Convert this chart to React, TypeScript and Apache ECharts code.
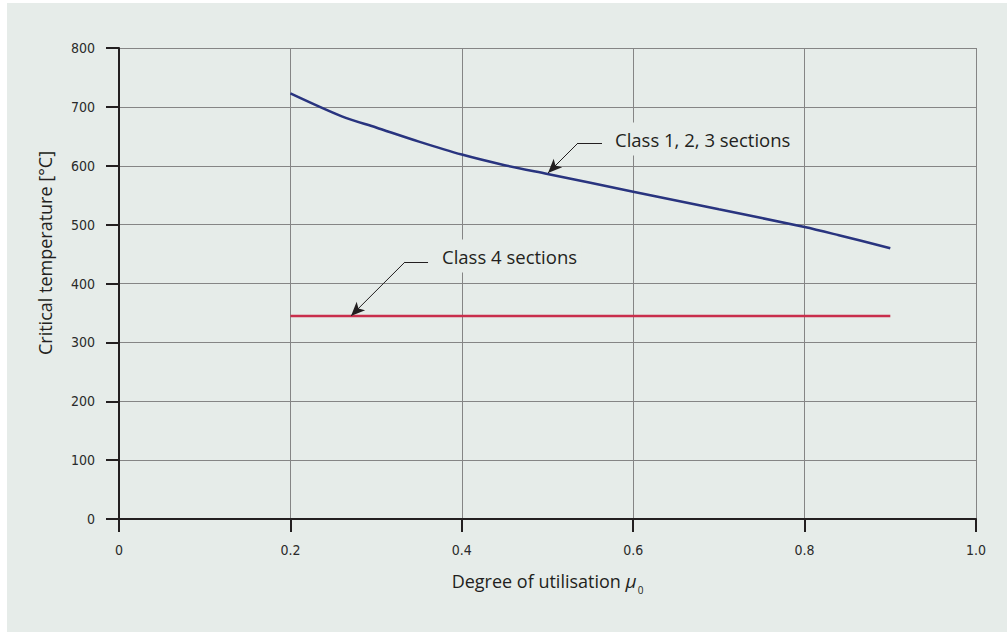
import React, { useEffect, useRef } from "react";
import * as echarts from "echarts";

const xTicks = [0, 0.2, 0.4, 0.6, 0.8, 1.0];
const classes123X = [0.2, 0.26, 0.3, 0.35, 0.4, 0.45, 0.5, 0.6, 0.7, 0.8, 0.84, 0.9];
const classes123Y = [723, 684, 665, 641, 619, 601, 586, 556, 526, 496, 482, 460];
const class4X = [0.2, 0.9];
const class4Y = [345, 345];
const label123 = "Class 1, 2, 3 sections";
const label4 = "Class 4 sections";
// leader lines in data coordinates: [knee, end of horizontal, arrow tip]
const leader123 = [[0.5356, 638.6], [0.5636, 638.6], [0.5006, 587.7]];
const leader4 = [[0.3337, 436.5], [0.3606, 436.5], [0.2707, 345]];

const BG = "#e6ece9";
const AXIS = "#231f20";
const GRID = "#858585";
const BLUE = "#29347f";
const RED = "#c92e4c";
const SANS = "'Open Sans', 'Noto Sans', sans-serif";
const NARROW = "'Liberation Sans Narrow', 'DejaVu Sans Condensed', Roboto, sans-serif";

function leaderLines(pts: number[][]) {
  return [
    [{ coord: pts[0], symbol: "none" }, { coord: pts[1], symbol: "none" }],
    [{ coord: pts[0], symbol: "none" }, { coord: pts[2], symbol: "arrow" }],
  ];
}

export default function App() {
  const ref = useRef<HTMLDivElement>(null);
  useEffect(() => {
    if (!ref.current) return;
    const chart = echarts.init(ref.current, undefined, { renderer: "svg" });
    chart.setOption({
      animation: false,
      backgroundColor: "transparent",
      grid: { left: 119, top: 48, width: 857, height: 471, containLabel: false },
      xAxis: {
        type: "value",
        min: 0,
        max: 1,
        interval: 0.2,
        name: "{a|Degree of utilisation }{mu|μ}{sub|0}",
        nameLocation: "middle",
        nameGap: 48,
        nameTextStyle: {
          rich: {
            a: { fontFamily: SANS, fontSize: 18, color: "#231f20" },
            mu: { fontFamily: SANS, fontSize: 19, fontStyle: "italic", color: "#231f20" },
            sub: { fontFamily: SANS, fontSize: 10, color: "#231f20", padding: [18, 0, 0, 1] },
          },
        },
        axisLine: { show: true, lineStyle: { color: AXIS, width: 2 } },
        axisTick: { show: true, inside: false, length: 13, lineStyle: { color: AXIS, width: 2 } },
        axisLabel: {
          margin: 24,
          fontFamily: NARROW,
          fontSize: 14,
          color: "#2a2a2a",
          formatter: (v: number) => (v === 0 ? "0" : v.toFixed(1)),
        },
        splitLine: { show: true, lineStyle: { color: GRID, width: 1 } },
      },
      yAxis: {
        type: "value",
        min: 0,
        max: 800,
        interval: 100,
        axisLine: { show: true, lineStyle: { color: AXIS, width: 2 } },
        axisTick: { show: true, inside: false, length: 13, lineStyle: { color: AXIS, width: 2 } },
        axisLabel: { margin: 24, fontFamily: NARROW, fontSize: 14, color: "#2a2a2a" },
        splitLine: { show: true, lineStyle: { color: GRID, width: 1 } },
      },
      graphic: [
        {
          type: "text",
          x: 45,
          y: 253,
          rotation: Math.PI / 2,
          style: {
            text: "Critical temperature [°C]",
            font: `18px ${SANS}`,
            fill: "#231f20",
            textAlign: "center",
            textVerticalAlign: "middle",
          },
        },
        {
          type: "text",
          x: 606,
          y: 139,
          z: 10,
          style: {
            text: label123,
            font: `18.5px ${SANS}`,
            fill: "#231f20",
            textAlign: "left",
            textVerticalAlign: "middle",
            backgroundColor: BG,
            padding: [7, 4, 7, 9],
          },
        },
        {
          type: "text",
          x: 433,
          y: 256,
          z: 10,
          style: {
            text: label4,
            font: `18.5px ${SANS}`,
            fill: "#231f20",
            textAlign: "left",
            textVerticalAlign: "middle",
            backgroundColor: BG,
            padding: [7, 4, 7, 9],
          },
        },
      ],
      series: [
        {
          type: "line",
          data: classes123X.map((x, i) => [x, classes123Y[i]]),
          showSymbol: false,
          symbol: "none",
          smooth: 0.3,
          lineStyle: { color: BLUE, width: 2.5 },
          z: 3,
          markLine: {
            silent: true,
            symbolSize: [9, 14],
            lineStyle: { color: "#231f20", width: 1, type: "solid" },
            label: { show: false },
            data: leaderLines(leader123),
          },
        },
        {
          type: "line",
          data: class4X.map((x, i) => [x, class4Y[i]]),
          showSymbol: false,
          symbol: "none",
          lineStyle: { color: RED, width: 2.5 },
          z: 3,
          markLine: {
            silent: true,
            symbolSize: [9, 14],
            lineStyle: { color: "#231f20", width: 1, type: "solid" },
            label: { show: false },
            data: leaderLines(leader4),
          },
        },
      ],
    });
    return () => chart.dispose();
  }, []);
  return (
    <div style={{ position: "absolute", left: 0, top: 0, width: 1007, height: 632, background: "#fff" }}>
      <div style={{ position: "absolute", left: 7, top: 3, right: 0, bottom: 0, background: BG }} />
      <div ref={ref} style={{ position: "absolute", left: 0, top: 0, width: 1007, height: 632 }} />
    </div>
  );
}
